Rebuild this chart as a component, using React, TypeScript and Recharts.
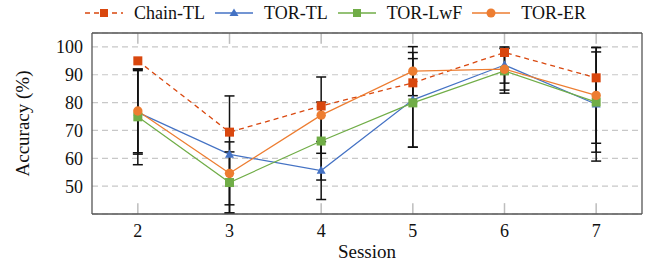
import React from 'react';
import { LineChart, Line, XAxis, YAxis, CartesianGrid, ErrorBar, ReferenceLine } from 'recharts';

const sessions = [2, 3, 4, 5, 6, 7];
const chainTL = [95, 69.4, 78.8, 87.1, 98, 88.9];
const torTL = [76.5, 61.4, 55.6, 81, 93.5, 79.4];
const torLwF = [74.9, 51.3, 66.2, 79.9, 91.4, 80.2];
const torER = [77, 54.6, 75.5, 91.3, 92, 82.6];
// half-width of the std error bars
const torTLErr = [15, 21, 10.4, 17, 6.5, 20.4];
const torLwFErr = [17.2, 11, 14, 15.9, 8, 18];
const torERErr = [15, 11.3, 13.7, 8.8, 7.5, 17.2];
const yTicks = [50, 60, 70, 80, 90, 100];
const Y_MIN = 40;
const Y_MAX = 105;
const TICK_LEN = 3.9; // inward tick length, in y units

const data = sessions.map((s, i) => ({
  session: s,
  chainTL: chainTL[i],
  torTL: torTL[i],
  torLwF: torLwF[i],
  torER: torER[i],
  tlErr: torTLErr[i],
  lwfErr: torLwFErr[i],
  erErr: torERErr[i],
}));

const SERIF = '"Liberation Serif", "Times New Roman", serif';
const C_CHAIN = '#D9470E';
const C_TL = '#4472C4';
const C_LWF = '#70AD47';
const C_ER = '#ED7D31';
const TICK_GRAY = '#bdbdbd';

const squareDot = (color: string, size: number) => (props: any) => {
  const { cx, cy, index } = props;
  if (cx == null || cy == null) return <g key={index} />;
  return <rect key={index} x={cx - size / 2} y={cy - size / 2} width={size} height={size} fill={color} />;
};

const triangleDot = (color: string, size: number) => (props: any) => {
  const { cx, cy, index } = props;
  if (cx == null || cy == null) return <g key={index} />;
  const h = size * 0.9;
  return (
    <polygon
      key={index}
      points={`${cx},${cy - h * 0.6} ${cx - size / 2},${cy + h * 0.4} ${cx + size / 2},${cy + h * 0.4}`}
      fill={color}
    />
  );
};

const circleDot = (color: string, r: number) => (props: any) => {
  const { cx, cy, index } = props;
  if (cx == null || cy == null) return <g key={index} />;
  return <circle key={index} cx={cx} cy={cy} r={r} fill={color} />;
};

const legendItems = [
  { name: 'Chain-TL', color: C_CHAIN, dash: '5 4', marker: 'square' },
  { name: 'TOR-TL', color: C_TL, dash: undefined, marker: 'triangle' },
  { name: 'TOR-LwF', color: C_LWF, dash: undefined, marker: 'square' },
  { name: 'TOR-ER', color: C_ER, dash: undefined, marker: 'circle' },
];

const LegendIcon = ({ color, dash, marker }: { color: string; dash?: string; marker: string }) => (
  <svg width={42} height={14} style={{ display: 'block' }}>
    <line x1={2} y1={7} x2={40} y2={7} stroke={color} strokeWidth={1.3} strokeDasharray={dash} />
    {marker === 'square' && <rect x={17} y={3} width={8} height={8} fill={color} />}
    {marker === 'triangle' && <polygon points="21,2.5 16.5,10 25.5,10" fill={color} />}
    {marker === 'circle' && <circle cx={21} cy={7} r={4.5} fill={color} />}
  </svg>
);

export default function App() {
  return (
    <div style={{ position: 'absolute', left: 0, top: 0, width: 652, height: 263, background: '#fff' }}>
      <div
        style={{
          position: 'absolute',
          top: 3,
          left: 83,
          height: 20,
          display: 'flex',
          alignItems: 'center',
          fontFamily: SERIF,
          fontSize: 18,
          lineHeight: '20px',
          color: '#111',
          whiteSpace: 'nowrap',
        }}
      >
        {legendItems.map((it) => (
          <div key={it.name} style={{ display: 'flex', alignItems: 'center', marginRight: 8 }}>
            <LegendIcon color={it.color} dash={it.dash} marker={it.marker} />
            <span style={{ marginLeft: 9 }}>{it.name}</span>
          </div>
        ))}
      </div>
      <LineChart width={652} height={263} data={data} margin={{ top: 33, right: 10, left: 0, bottom: 0 }}>
        <CartesianGrid vertical={false} stroke="#c8c8c8" strokeDasharray="6 4" strokeWidth={1.2} yAxisId="y" xAxisId="x" />
        <XAxis
          xAxisId="x"
          dataKey="session"
          type="number"
          domain={[1.5, 7.5]}
          ticks={sessions}
          height={49}
          tickLine={false}
          tickSize={0}
          tickMargin={10}
          axisLine={{ stroke: '#555', strokeWidth: 1.3 }}
          tick={{ fontSize: 18, fill: '#111', fontFamily: SERIF }}
          label={{ value: 'Session', position: 'insideBottom', offset: 5, fontSize: 19, fill: '#111', fontFamily: SERIF }}
        />
        <YAxis
          yAxisId="y"
          type="number"
          domain={[Y_MIN, Y_MAX]}
          ticks={yTicks}
          width={92}
          tickLine={false}
          tickSize={0}
          tickMargin={9}
          axisLine={{ stroke: '#555', strokeWidth: 1.3 }}
          tick={{ fontSize: 18, fill: '#111', fontFamily: SERIF }}
          label={{
            value: 'Accuracy (%)',
            angle: -90,
            position: 'insideLeft',
            offset: 22,
            fontSize: 19,
            fill: '#111',
            fontFamily: SERIF,
            style: { textAnchor: 'middle' },
          }}
        />
        {/* inward x tick marks at bottom and top, pgfplots style */}
        {sessions.map((s) => (
          <ReferenceLine
            key={`tb-${s}`}
            xAxisId="x"
            yAxisId="y"
            segment={[{ x: s, y: Y_MIN }, { x: s, y: Y_MIN + TICK_LEN }]}
            stroke={TICK_GRAY}
            strokeWidth={1.5}
            ifOverflow="visible"
          />
        ))}
        {sessions.map((s) => (
          <ReferenceLine
            key={`tt-${s}`}
            xAxisId="x"
            yAxisId="y"
            segment={[{ x: s, y: Y_MAX }, { x: s, y: Y_MAX - TICK_LEN }]}
            stroke={TICK_GRAY}
            strokeWidth={1.5}
            ifOverflow="visible"
          />
        ))}
        {/* top and right frame */}
        <ReferenceLine xAxisId="x" yAxisId="y" y={Y_MAX} stroke="#555" strokeWidth={1.3} ifOverflow="visible" />
        <ReferenceLine xAxisId="x" yAxisId="y" x={7.5} stroke="#555" strokeWidth={1.3} ifOverflow="visible" />
        <Line
          xAxisId="x"
          yAxisId="y"
          dataKey="chainTL"
          stroke={C_CHAIN}
          strokeWidth={1.3}
          strokeDasharray="5 4"
          dot={squareDot(C_CHAIN, 9)}
          activeDot={false}
          isAnimationActive={false}
        />
        <Line
          xAxisId="x"
          yAxisId="y"
          dataKey="torTL"
          stroke={C_TL}
          strokeWidth={1.2}
          dot={triangleDot(C_TL, 9)}
          activeDot={false}
          isAnimationActive={false}
        >
          <ErrorBar dataKey="tlErr" direction="y" width={5} stroke="#111" strokeWidth={1.5} isAnimationActive={false} />
        </Line>
        <Line
          xAxisId="x"
          yAxisId="y"
          dataKey="torLwF"
          stroke={C_LWF}
          strokeWidth={1.2}
          dot={squareDot(C_LWF, 9)}
          activeDot={false}
          isAnimationActive={false}
        >
          <ErrorBar dataKey="lwfErr" direction="y" width={5} stroke="#111" strokeWidth={1.5} isAnimationActive={false} />
        </Line>
        <Line
          xAxisId="x"
          yAxisId="y"
          dataKey="torER"
          stroke={C_ER}
          strokeWidth={1.2}
          dot={circleDot(C_ER, 4.7)}
          activeDot={false}
          isAnimationActive={false}
        >
          <ErrorBar dataKey="erErr" direction="y" width={5} stroke="#111" strokeWidth={1.5} isAnimationActive={false} />
        </Line>
      </LineChart>
    </div>
  );
}
